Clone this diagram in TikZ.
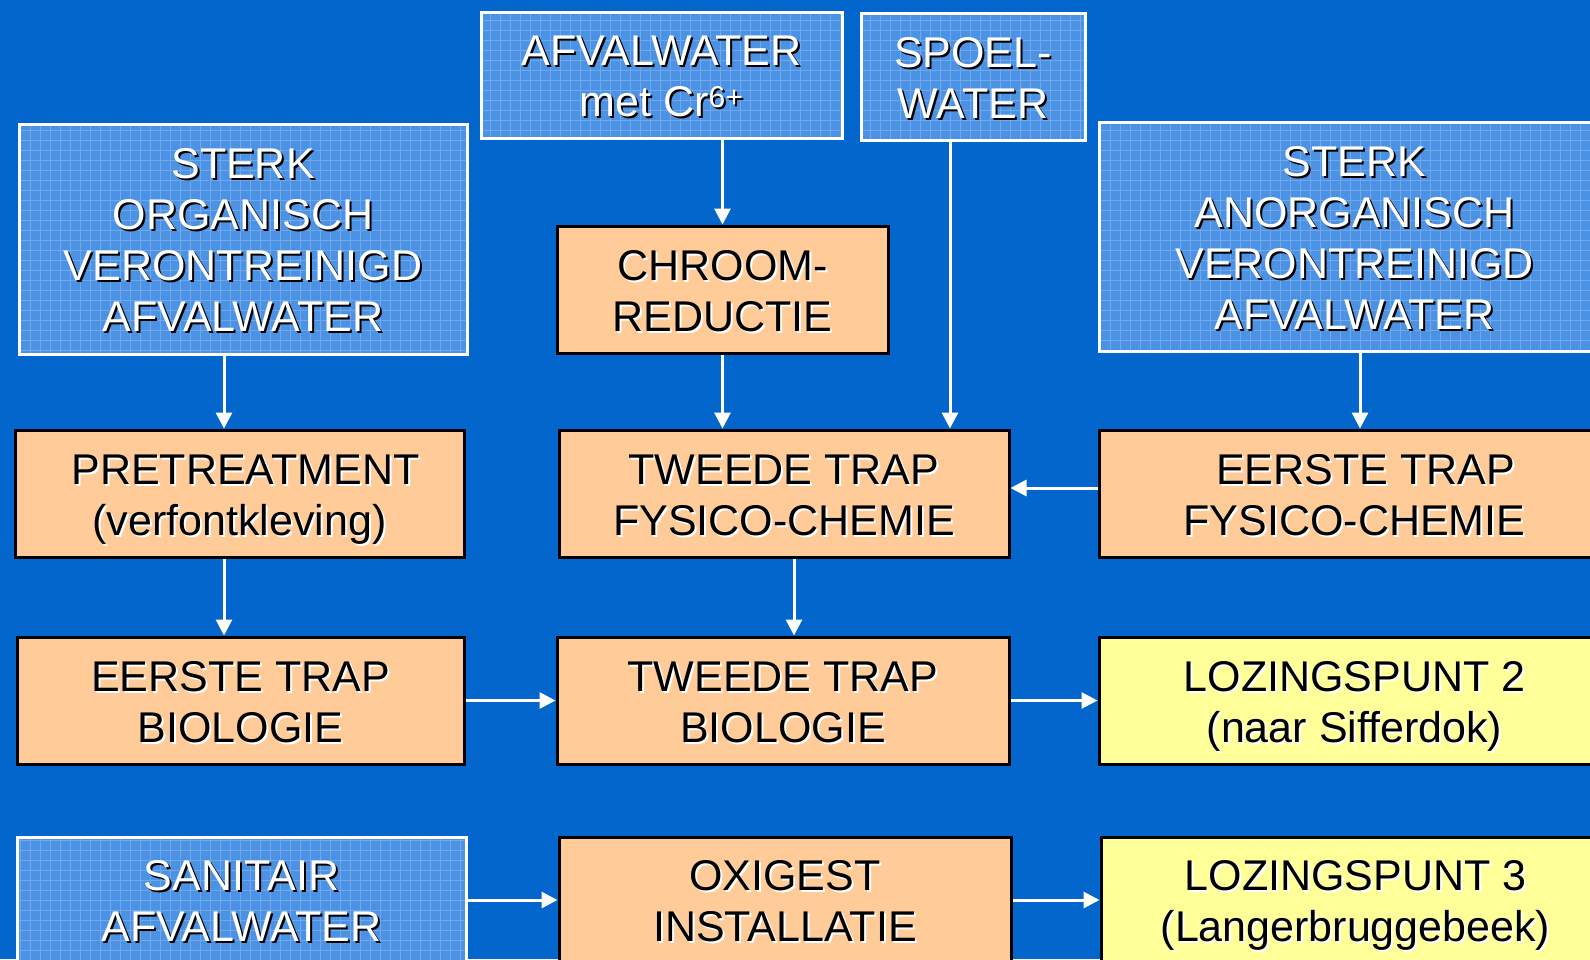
\documentclass[tikz,border=0pt]{standalone}
\usepackage{fontspec}
\setmainfont{Liberation Sans}
\usetikzlibrary{arrows.meta}
\definecolor{bgblue}{RGB}{3,102,204}
\definecolor{bluefill}{RGB}{76,146,228}
\definecolor{gridc}{RGB}{112,168,234}
\definecolor{orangefill}{RGB}{255,204,153}
\definecolor{yellowfill}{RGB}{255,255,153}
\tikzset{
  box/.style={rectangle, inner sep=0pt, line width=3pt},
  bluebox/.style={box, fill=bluefill, draw=white},
  orangebox/.style={box, fill=orangefill, draw=black},
  yellowbox/.style={box, fill=yellowfill, draw=black},
  lbl/.style={align=center, font=\fontsize{43}{51}\selectfont, inner sep=0pt,
    execute at begin node=\strut, execute at end node=\strut},
  arr/.style={draw=white, line width=3pt, -{Triangle[length=16pt,width=16pt,fill=white]}},
  gridline/.style={draw=gridc, line width=0.8pt},
}
\newcommand\mkbox[6]{%
  \node[#1, minimum width={(#5-#3)*1pt}, minimum height={(#6-#4)*1pt}] (#2) at ({(#3+#5)/2},{(#4+#6)/2}) {};}
\newcommand\gridbox[1]{%
  \begin{scope}
    \clip ([shift={(3pt,-3pt)}]#1.north west) rectangle ([shift={(-3pt,3pt)}]#1.south east);
    \draw[gridline] (0,0) grid[step=10pt] (1620,980);
  \end{scope}
  \draw[white, line width=3pt] ([shift={(1.5pt,-1.5pt)}]#1.north west) rectangle ([shift={(-1.5pt,1.5pt)}]#1.south east);}
\newcommand\boxlabel[4]{%
  \node[lbl, text=#4] (#1-s) at ([xshift=2pt,yshift=-11pt]#1.center) {#2};
  \node[lbl, text=#3] (#1-t) at ([yshift=-9pt]#1.center) {#2};}
\begin{document}
\begin{tikzpicture}[x=1pt,y=-1pt]
\useasboundingbox (0,0) rectangle (1590,959);
\fill[bgblue] (0,0) rectangle (1590,959);
\begin{scope}
\clip (0,0) rectangle (1590,959);
% boxes
\mkbox{bluebox}{cr}{481}{12}{842}{138}
\mkbox{bluebox}{spoel}{861}{13}{1085}{140}
\mkbox{bluebox}{sorg}{19}{124}{467}{354}
\mkbox{orangebox}{chroom}{557}{226}{888}{353}
\mkbox{bluebox}{sanorg}{1099}{122}{1610}{351}
\mkbox{orangebox}{pre}{15}{430}{464}{557}
\mkbox{orangebox}{tf}{559}{430}{1009}{557}
\mkbox{orangebox}{ef}{1099}{430}{1610}{557}
\mkbox{orangebox}{eb}{17}{637}{464}{764}
\mkbox{orangebox}{tb}{557}{637}{1009}{764}
\mkbox{yellowbox}{loz2}{1099}{637}{1610}{764}
\mkbox{bluebox}{san}{17}{837}{466}{963}
\mkbox{orangebox}{oxi}{559}{837}{1011}{963}
\mkbox{yellowbox}{loz3}{1101}{837}{1610}{963}
% grids
\gridbox{cr}\gridbox{spoel}\gridbox{sorg}\gridbox{sanorg}\gridbox{san}
% labels
\boxlabel{cr}{AFVALWATER\\met Cr\textsuperscript{6+}}{white}{black}
\boxlabel{spoel}{SPOEL-\\WATER}{white}{black}
\boxlabel{sorg}{STERK\\ORGANISCH\\VERONTREINIGD\\AFVALWATER}{white}{black}
\boxlabel{sanorg}{STERK\\ANORGANISCH\\VERONTREINIGD\\AFVALWATER}{white}{black}
\boxlabel{san}{SANITAIR\\AFVALWATER}{white}{black}
\boxlabel{chroom}{CHROOM-\\REDUCTIE}{black}{white}
\boxlabel{pre}{\hspace*{12pt}PRETREATMENT\\(verfontkleving)}{black}{white}
\boxlabel{tf}{TWEEDE TRAP\\FYSICO-CHEMIE}{black}{white}
\boxlabel{ef}{\hspace*{22pt}EERSTE TRAP\\FYSICO-CHEMIE}{black}{white}
\boxlabel{eb}{EERSTE TRAP\\BIOLOGIE}{black}{white}
\boxlabel{tb}{TWEEDE TRAP\\BIOLOGIE}{black}{white}
\boxlabel{oxi}{OXIGEST\\INSTALLATIE}{black}{white}
\boxlabel{loz2}{LOZINGSPUNT 2\\(naar Sifferdok)}{black}{white}
\boxlabel{loz3}{LOZINGSPUNT 3\\(Langerbruggebeek)}{black}{white}
% helper coordinates
\coordinate (xs) at (950,0);
\coordinate (xo) at (224,0);
\coordinate (xa) at (1360,0);
\coordinate (xt) at (794,0);
\coordinate (ye) at (0,488);
% arrows
\draw[arr] (cr.south -| chroom.north) -- (chroom.north);
\draw[arr] (spoel.south -| xs) -- (tf.north -| xs);
\draw[arr] (sorg.south -| xo) -- (pre.north -| xo);
\draw[arr] (chroom.south) -- (tf.north -| chroom.south);
\draw[arr] (sanorg.south -| xa) -- (ef.north -| xa);
\draw[arr] (ef.west |- ye) -- (tf.east |- ye);
\draw[arr] (pre.south -| xo) -- (eb.north -| xo);
\draw[arr] (tf.south -| xt) -- (tb.north -| xt);
\draw[arr] (eb.east) -- (tb.west);
\draw[arr] (tb.east) -- (loz2.west |- tb.east);
\draw[arr] (san.east) -- (oxi.west);
\draw[arr] (oxi.east) -- (loz3.west |- oxi.east);
\end{scope}
\end{tikzpicture}
\end{document}
